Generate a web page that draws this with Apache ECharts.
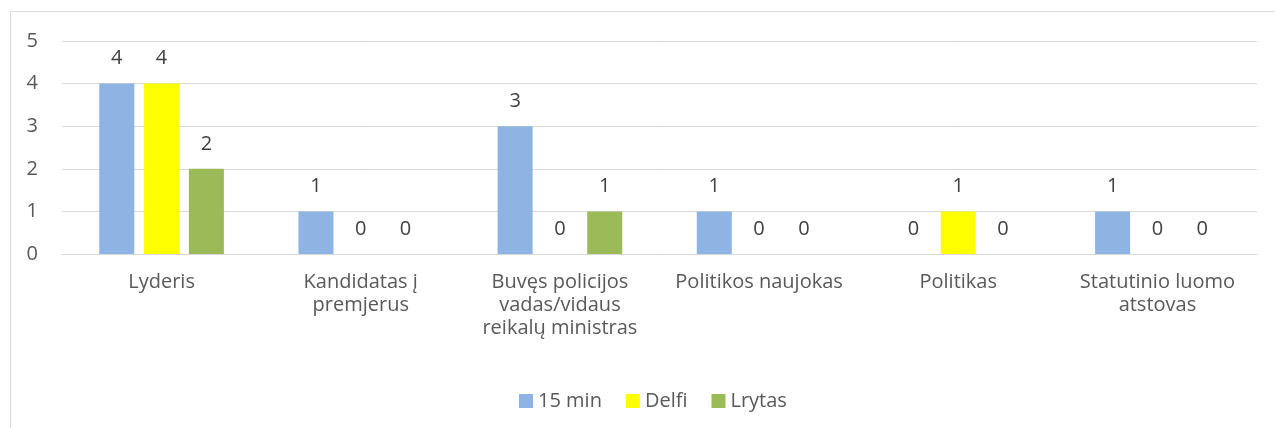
<!DOCTYPE html>
<html>
<head>
<meta charset="utf-8">
<script src="https://cdn.jsdelivr.net/npm/echarts@6/dist/echarts.min.js"></script>
<style>
  html, body { margin: 0; padding: 0; background: #fff; }
  #chart { width: 1275px; height: 428px; }
</style>
</head>
<body>
<div id="chart"></div>
<script>
// duomenys
var categories = ['Lyderis', 'Kandidatas į\npremjerus', 'Buvęs policijos\nvadas/vidaus\nreikalų ministras', 'Politikos naujokas', 'Politikas', 'Statutinio luomo\natstovas'];
var min15 = [4, 1, 3, 1, 0, 1];
var delfi = [4, 0, 0, 0, 1, 0];
var lrytas = [2, 0, 1, 0, 0, 0];
var yTicks = [0, 1, 2, 3, 4, 5];

var font = 'Open Sans';
var textColor = '#595959';
var fs = 20;

function makeSeries(name, data, color) {
    return {
        name: name,
        type: 'bar',
        data: data,
        barWidth: 35,
        barGap: '28%',
        itemStyle: { color: color },
        label: {
            show: true,
            position: 'top',
            distance: 15,
            color: '#404040',
            fontFamily: font,
            fontSize: fs
        }
    };
}

var chartView = echarts.init(document.getElementById('chart'));
chartView.setOption({
    animation: false,
    backgroundColor: '#fff',
    textStyle: { fontFamily: font },
    graphic: [{
        type: 'rect',
        shape: { x: 10.5, y: 11.5, width: 1400, height: 600 },
        style: { fill: 'none', stroke: '#d9d9d9', lineWidth: 1 },
        silent: true
    }],
    legend: {
        data: ['15 min', 'Delfi', 'Lrytas'],
        left: 514,
        top: 386,
        itemWidth: 14,
        itemHeight: 14,
        itemGap: 24,
        icon: 'rect',
        textStyle: { color: textColor, fontFamily: font, fontSize: fs }
    },
    grid: {
        left: 62,
        right: 18,
        top: 41,
        bottom: 174
    },
    xAxis: {
        type: 'category',
        data: categories,
        axisLine: { lineStyle: { color: '#d9d9d9' } },
        axisTick: { show: false },
        axisLabel: {
            interval: 0,
            margin: 17,
            color: textColor,
            fontFamily: font,
            fontSize: fs,
            lineHeight: 23
        }
    },
    yAxis: {
        type: 'value',
        min: yTicks[0],
        max: yTicks[yTicks.length - 1],
        interval: 1,
        axisLine: { show: false },
        axisTick: { show: false },
        splitLine: { lineStyle: { color: '#d9d9d9' } },
        axisLabel: {
            margin: 24,
            color: textColor,
            fontFamily: font,
            fontSize: fs
        }
    },
    series: [
        makeSeries('15 min', min15, '#8EB4E3'),
        makeSeries('Delfi', delfi, '#FFFF00'),
        makeSeries('Lrytas', lrytas, '#9BBB59')
    ]
});
</script>
</body>
</html>
